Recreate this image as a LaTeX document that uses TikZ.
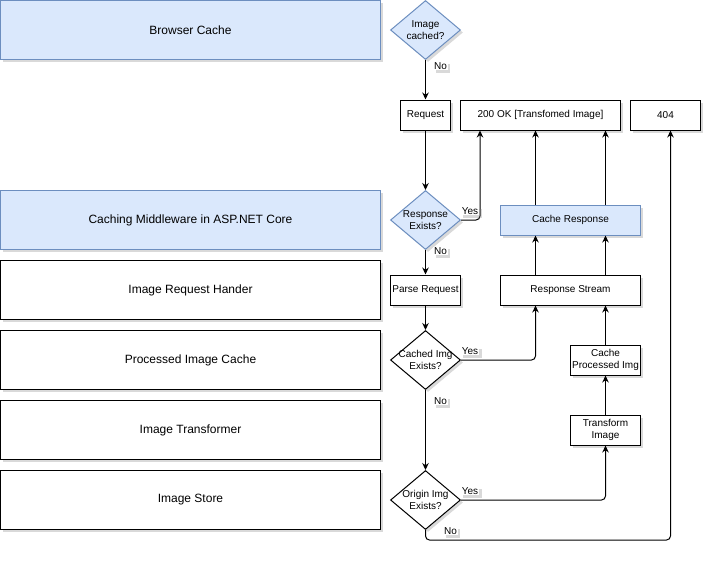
\documentclass[tikz,border=0pt]{standalone}
\usepackage{fontspec}
\setmainfont{Liberation Sans}
\usetikzlibrary{shapes.geometric,arrows.meta,shadows}
\definecolor{laneblue}{HTML}{DAE8FC}
\definecolor{lineblue}{HTML}{6C8EBF}

\begin{document}
\begin{tikzpicture}[x=1pt, y=-1pt,
    shadowed/.style={drop shadow={shadow xshift=2.5pt, shadow yshift=-2.5pt, opacity=.3, fill=black!50}},
    lane/.style={draw, line width=1pt, fill=white, shadowed, minimum width=380pt, minimum height=59pt, font=\fontsize{12}{14}\selectfont},
    tinted/.style={fill=laneblue, draw=lineblue},
    flow/.style={draw, line width=1pt, fill=white, shadowed, minimum height=30pt, inner sep=1pt, align=center, font=\fontsize{10}{12}\selectfont},
    decide/.style={diamond, draw, line width=1pt, fill=white, shadowed, minimum width=70pt, minimum height=59pt, inner sep=0pt},
    dtext/.style={align=center, inner sep=0pt, font=\fontsize{10}{12}\selectfont},
    conn/.style={line width=1pt, rounded corners=4pt, -{Stealth[length=7pt, width=6.5pt]}},
    lbl/.style={fill=white, inner sep=1pt, shadowed, font=\fontsize{10}{12}\selectfont}]

        \useasboundingbox (0,0) rectangle (712,560);

        % lanes
        \node[lane, tinted] (browser) at (190.5,30)  {Browser Cache};
        \node[lane, tinted] (mware)   at (190.5,220) {Caching Middleware in ASP.NET Core};
        \node[lane]         (handler) at (190.5,290) {Image Request Hander};
        \node[lane]         (pcache)  at (190.5,360) {Processed Image Cache};
        \node[lane]         (xformer) at (190.5,430) {Image Transformer};
        \node[lane]         (store)   at (190.5,500) {Image Store};

        % decisions
        \node[decide, tinted, label={[dtext]center:Image\\cached?}]     (imgcached)  at (425.5,30)  {};
        \node[decide, tinted, label={[dtext]center:Response\\Exists?}]  (respexists) at (425.5,220) {};
        \node[decide, label={[dtext]center:Cached Img\\Exists?}]        (cachedimg)  at (425.5,360) {};
        \node[decide, label={[dtext]center:Origin Img\\Exists?}]        (originimg)  at (425.5,500) {};

        % steps
        \node[flow, minimum width=50pt]          (request)   at (425.5,115) {Request};
        \node[flow, minimum width=160pt]         (ok)        at (540.5,115) {200 OK [Transfomed Image]};
        \node[flow, minimum width=70pt]          (notfound)  at (665.5,115) {404};
        \node[flow, tinted, minimum width=140pt] (cacheresp) at (570.5,220) {Cache Response};
        \node[flow, minimum width=70pt]          (parse)     at (425.5,290) {Parse Request};
        \node[flow, minimum width=140pt]         (stream)    at (570.5,290) {Response Stream};
        \node[flow, minimum width=70pt]          (cacheimg)  at (605.5,360) {Cache\\Processed Img};
        \node[flow, minimum width=70pt]          (transform) at (605.5,430) {Transform\\Image};

        \coordinate (ycol) at (480,0);
        \coordinate (lcol) at (535.5,0);
        \coordinate (bend) at (670.5,540);

        % connectors
        \draw[conn] (imgcached.south)  -- (request.north);
        \draw[conn] (request.south)    -- (respexists.north);
        \draw[conn] (respexists.east)  -| (ok.south -| ycol);
        \draw[conn] (respexists.south) -- (parse.north);
        \draw[conn] (parse.south)      -- (cachedimg.north);
        \draw[conn] (cachedimg.east)   -| (stream.south -| lcol);
        \draw[conn] (cachedimg.south)  -- (originimg.north);
        \draw[conn] (originimg.east)   -| (transform.south);
        \draw[conn] (originimg.south)  |- (bend) -- (notfound.south -| bend);
        \draw[conn] (transform.north)  -- (cacheimg.south);
        \draw[conn] (cacheimg.north)   -- (stream.south -| cacheimg);
        \draw[conn] (stream.north -| lcol)     -- (cacheresp.south -| lcol);
        \draw[conn] (stream.north -| cacheimg) -- (cacheresp.south -| cacheimg);
        \draw[conn] (cacheresp.north -| lcol)     -- (ok.south -| lcol);
        \draw[conn] (cacheresp.north -| cacheimg) -- (ok.south -| cacheimg);

        % labels
        \node[lbl] (no1)  at (440.5,66)  {No};
        \node[lbl] (yes1) at (470,211)   {Yes};
        \node[lbl] (no2)  at (440.5,251) {No};
        \node[lbl] (yes2) at (470,351)   {Yes};
        \node[lbl] (no3)  at (440.5,401) {No};
        \node[lbl] (yes3) at (470,491)   {Yes};
        \node[lbl] (no4)  at (450.5,531) {No};
\end{tikzpicture}
\end{document}
